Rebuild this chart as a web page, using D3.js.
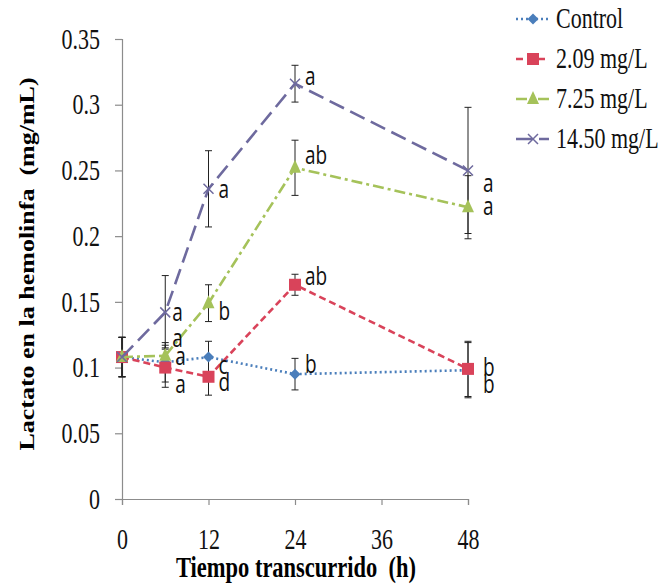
<!DOCTYPE html>
<html>
<head>
<meta charset="utf-8">
<script src="https://cdn.jsdelivr.net/npm/d3@7"></script>
<style>
  body { margin: 0; background: #fff; }
  svg { display: block; }
  text { white-space: pre; }
</style>
</head>
<body>
<div id="chart"></div>
<script>
(function() {
    // ---- data ----
    var hours = [0, 6, 12, 24, 48];
    var xTicks = [0, 12, 24, 36, 48];
    var yTicks = [0, 0.05, 0.1, 0.15, 0.2, 0.25, 0.3, 0.35];
    var yTickLabels = ['0', '0.05', '0.1', '0.15', '0.2', '0.25', '0.3', '0.35'];

    var seriesNames = ['Control', '2.09 mg/L', '7.25 mg/L', '14.50 mg/L'];

    var controlMeans = [0.108, 0.104, 0.108, 0.095, 0.098];
    var low209Means  = [0.108, 0.100, 0.093, 0.163, 0.099];
    var mid725Means  = [0.108, 0.109, 0.149, 0.252, 0.222];
    var high1450Means = [0.108, 0.142, 0.236, 0.316, 0.250];

    var controlErr  = [0.015, 0.015, 0.012, 0.012, 0.021];
    var low209Err   = [0.015, 0.015, 0.014, 0.008, 0.021];
    var mid725Err   = [0.015, 0.008, 0.014, 0.021, 0.024];
    var high1450Err = [0.015, 0.028, 0.029, 0.014, 0.048];

    var controlLetters  = ['', 'a', 'c', 'b', 'b'];
    var low209Letters   = ['', 'a', 'd', 'ab', 'b'];
    var mid725Letters   = ['', 'a', 'b', 'ab', 'a'];
    var high1450Letters = ['', 'a', 'a', 'a', 'a'];

    // ---- layout / style ----
    var WIDTH = 667, HEIGHT = 584;
    var MARGINS = {top: 39, right: 199, bottom: 85, left: 122};
    var STRETCH = 1.3;   // the original picture is stretched vertically
    var AXIS_COLOR = '#8c8c8c';

    var styles = [
        {color: '#4a7ebb', dash: '2,3', marker: 'diamond'},
        {color: '#d9435a', dash: '7,4', marker: 'square'},
        {color: '#a5c25a', dash: '11,4,3,4', marker: 'triangle'},
        {color: '#6e6a9e', dash: '16,7', marker: 'cross'}
    ];

    // offsets of the significance letters from their point (px)
    var letterDx = [
        [0, 7, 10, 10, 15],
        [0, 10, 10, 10, 15],
        [0, 10, 10, 10, 15],
        [0, 7, 10, 10, 15]
    ];
    var letterDy = [
        [0, -23, 10, -9, 15],
        [0, 18, 7, -7, 0],
        [0, 2, 9, -11, 0],
        [0, 1, 2, -6, 14]
    ];

    var series = [
        {name: seriesNames[0], means: controlMeans, err: controlErr, letters: controlLetters},
        {name: seriesNames[1], means: low209Means, err: low209Err, letters: low209Letters},
        {name: seriesNames[2], means: mid725Means, err: mid725Err, letters: mid725Letters},
        {name: seriesNames[3], means: high1450Means, err: high1450Err, letters: high1450Letters}
    ];

    var w = WIDTH - MARGINS.left - MARGINS.right;
    var h = HEIGHT - MARGINS.top - MARGINS.bottom;

    var svg = d3.select('#chart').append('svg')
        .attr('width', WIDTH)
        .attr('height', HEIGHT);

    var g = svg.append('g')
        .attr('transform', 'translate(' + MARGINS.left + ',' + MARGINS.top + ')');

    var x = d3.scaleLinear().domain([0, 48]).range([0, w]);
    var y = d3.scaleLinear().domain([0, 0.35]).range([h, 0]);

    // ---- axes ----
    var yAxis = d3.axisLeft(y)
        .tickValues(yTicks)
        .tickFormat(function(d, i) { return yTickLabels[i]; })
        .tickSizeOuter(0)
        .tickSize(7)
        .tickPadding(15);

    var xAxis = d3.axisBottom(x)
        .tickValues(xTicks)
        .tickFormat(d3.format('d'))
        .tickSizeOuter(0)
        .tickSize(6);

    var yG = g.append('g').attr('class', 'y axis').call(yAxis);
    var xG = g.append('g').attr('class', 'x axis')
        .attr('transform', 'translate(0,' + h + ')')
        .call(xAxis);

    [yG, xG].forEach(function(ax) {
        ax.select('.domain').attr('stroke', AXIS_COLOR).attr('stroke-width', 1.2);
        ax.selectAll('.tick line').attr('stroke', AXIS_COLOR).attr('stroke-width', 1.2);
        ax.selectAll('.tick text')
            .attr('fill', '#111')
            .style('font-family', '"Liberation Serif", "Times New Roman", serif')
            .style('font-size', '22px');
    });

    yG.selectAll('.tick text')
        .attr('transform', function() { return 'scale(1,' + STRETCH + ')'; });

    xG.selectAll('.tick text')
        .attr('y', 0)
        .attr('dy', 0)
        .attr('transform', 'translate(0,50) scale(1,' + STRETCH + ')');

    // axis titles
    g.append('text')
        .attr('transform', 'translate(' + (x(24) + 1) + ',' + (h + 78) + ') scale(1,' + STRETCH + ')')
        .attr('text-anchor', 'middle')
        .style('font-family', '"Liberation Serif", "Times New Roman", serif')
        .style('font-weight', 'bold')
        .style('font-size', '22.5px')
        .text('Tiempo transcurrido  (h)');

    g.append('text')
        .attr('transform', 'translate(' + (-MARGINS.left + 34) + ',' + (h / 2 - 5) + ') rotate(-90) scale(' + STRETCH + ',1)')
        .attr('text-anchor', 'middle')
        .style('font-family', '"Liberation Serif", "Times New Roman", serif')
        .style('font-weight', 'bold')
        .style('font-size', '20px')
        .text('Lactato en la hemolinfa  (mg/mL)');

    // ---- markers ----
    function drawMarker(sel, type, color) {
        if (type === 'diamond') {
            sel.append('path').attr('d', 'M0,-5.5L5.5,0L0,5.5L-5.5,0Z').attr('fill', color);
        } else if (type === 'square') {
            sel.append('rect').attr('x', -6).attr('y', -6).attr('width', 12).attr('height', 12).attr('fill', color);
        } else if (type === 'triangle') {
            sel.append('path').attr('d', 'M0,-8L6,5L-6,5Z').attr('fill', color);
        } else {
            sel.append('path').attr('d', 'M-5,-5L5,5M-5,5L5,-5')
                .attr('stroke', color).attr('stroke-width', 1.5).attr('fill', 'none');
        }
    }

    var valueLine = d3.line()
        .x(function(d) { return x(d.t); })
        .y(function(d) { return y(d.v); });

    // error bars first (behind lines)
    series.forEach(function(s) {
        var pts = hours.map(function(t, i) { return {t: t, v: s.means[i], e: s.err[i]}; });
        var eg = g.append('g').attr('class', 'errors');
        pts.forEach(function(p) {
            var cx = x(p.t), y1 = y(p.v + p.e), y2 = y(p.v - p.e);
            eg.append('line').attr('x1', cx).attr('x2', cx).attr('y1', y1).attr('y2', y2)
                .attr('stroke', '#222').attr('stroke-width', 1);
            eg.append('line').attr('x1', cx - 3.5).attr('x2', cx + 3.5).attr('y1', y1).attr('y2', y1)
                .attr('stroke', '#222').attr('stroke-width', 1);
            eg.append('line').attr('x1', cx - 3.5).attr('x2', cx + 3.5).attr('y1', y2).attr('y2', y2)
                .attr('stroke', '#222').attr('stroke-width', 1);
        });
    });

    series.forEach(function(s, si) {
        var st = styles[si];
        var pts = hours.map(function(t, i) { return {t: t, v: s.means[i]}; });

        g.append('path')
            .attr('class', 'line')
            .attr('fill', 'none')
            .attr('stroke', st.color)
            .attr('stroke-width', 2.6)
            .attr('stroke-dasharray', st.dash)
            .attr('d', valueLine(pts));

        pts.forEach(function(p) {
            var mg = g.append('g').attr('transform', 'translate(' + x(p.t) + ',' + y(p.v) + ')');
            drawMarker(mg, st.marker, st.color);
        });
    });

    // significance letters
    series.forEach(function(s, si) {
        s.letters.forEach(function(l, i) {
            if (!l) return;
            var px = x(hours[i]) + letterDx[si][i];
            var py = y(s.means[i]) + letterDy[si][i];
            g.append('text')
                .attr('transform', 'translate(' + px + ',' + py + ') scale(1,' + STRETCH + ')')
                .attr('dy', '0.3em')
                .style('font-family', '"Open Sans", "Liberation Sans", sans-serif')
                .style('font-size', '19px')
                .attr('fill', '#111')
                .text(l);
        });
    });

    // ---- legend ----
    var legend = svg.append('g').attr('transform', 'translate(516,19)');
    series.forEach(function(s, si) {
        var st = styles[si];
        var row = legend.append('g').attr('transform', 'translate(0,' + (si * 40) + ')');
        row.append('line')
            .attr('x1', 0).attr('x2', 33).attr('y1', 0).attr('y2', 0)
            .attr('stroke', st.color).attr('stroke-width', 2.6)
            .attr('stroke-dasharray', st.dash);
        drawMarker(row.append('g').attr('transform', 'translate(17,0)'), st.marker, st.color);
        row.append('text')
            .attr('transform', 'translate(40,0) scale(1,' + STRETCH + ')')
            .attr('dy', '0.33em')
            .style('font-family', '"Liberation Serif", "Times New Roman", serif')
            .style('font-size', '22px')
            .attr('fill', '#111')
            .text(s.name);
    });
})();
</script>
</body>
</html>
